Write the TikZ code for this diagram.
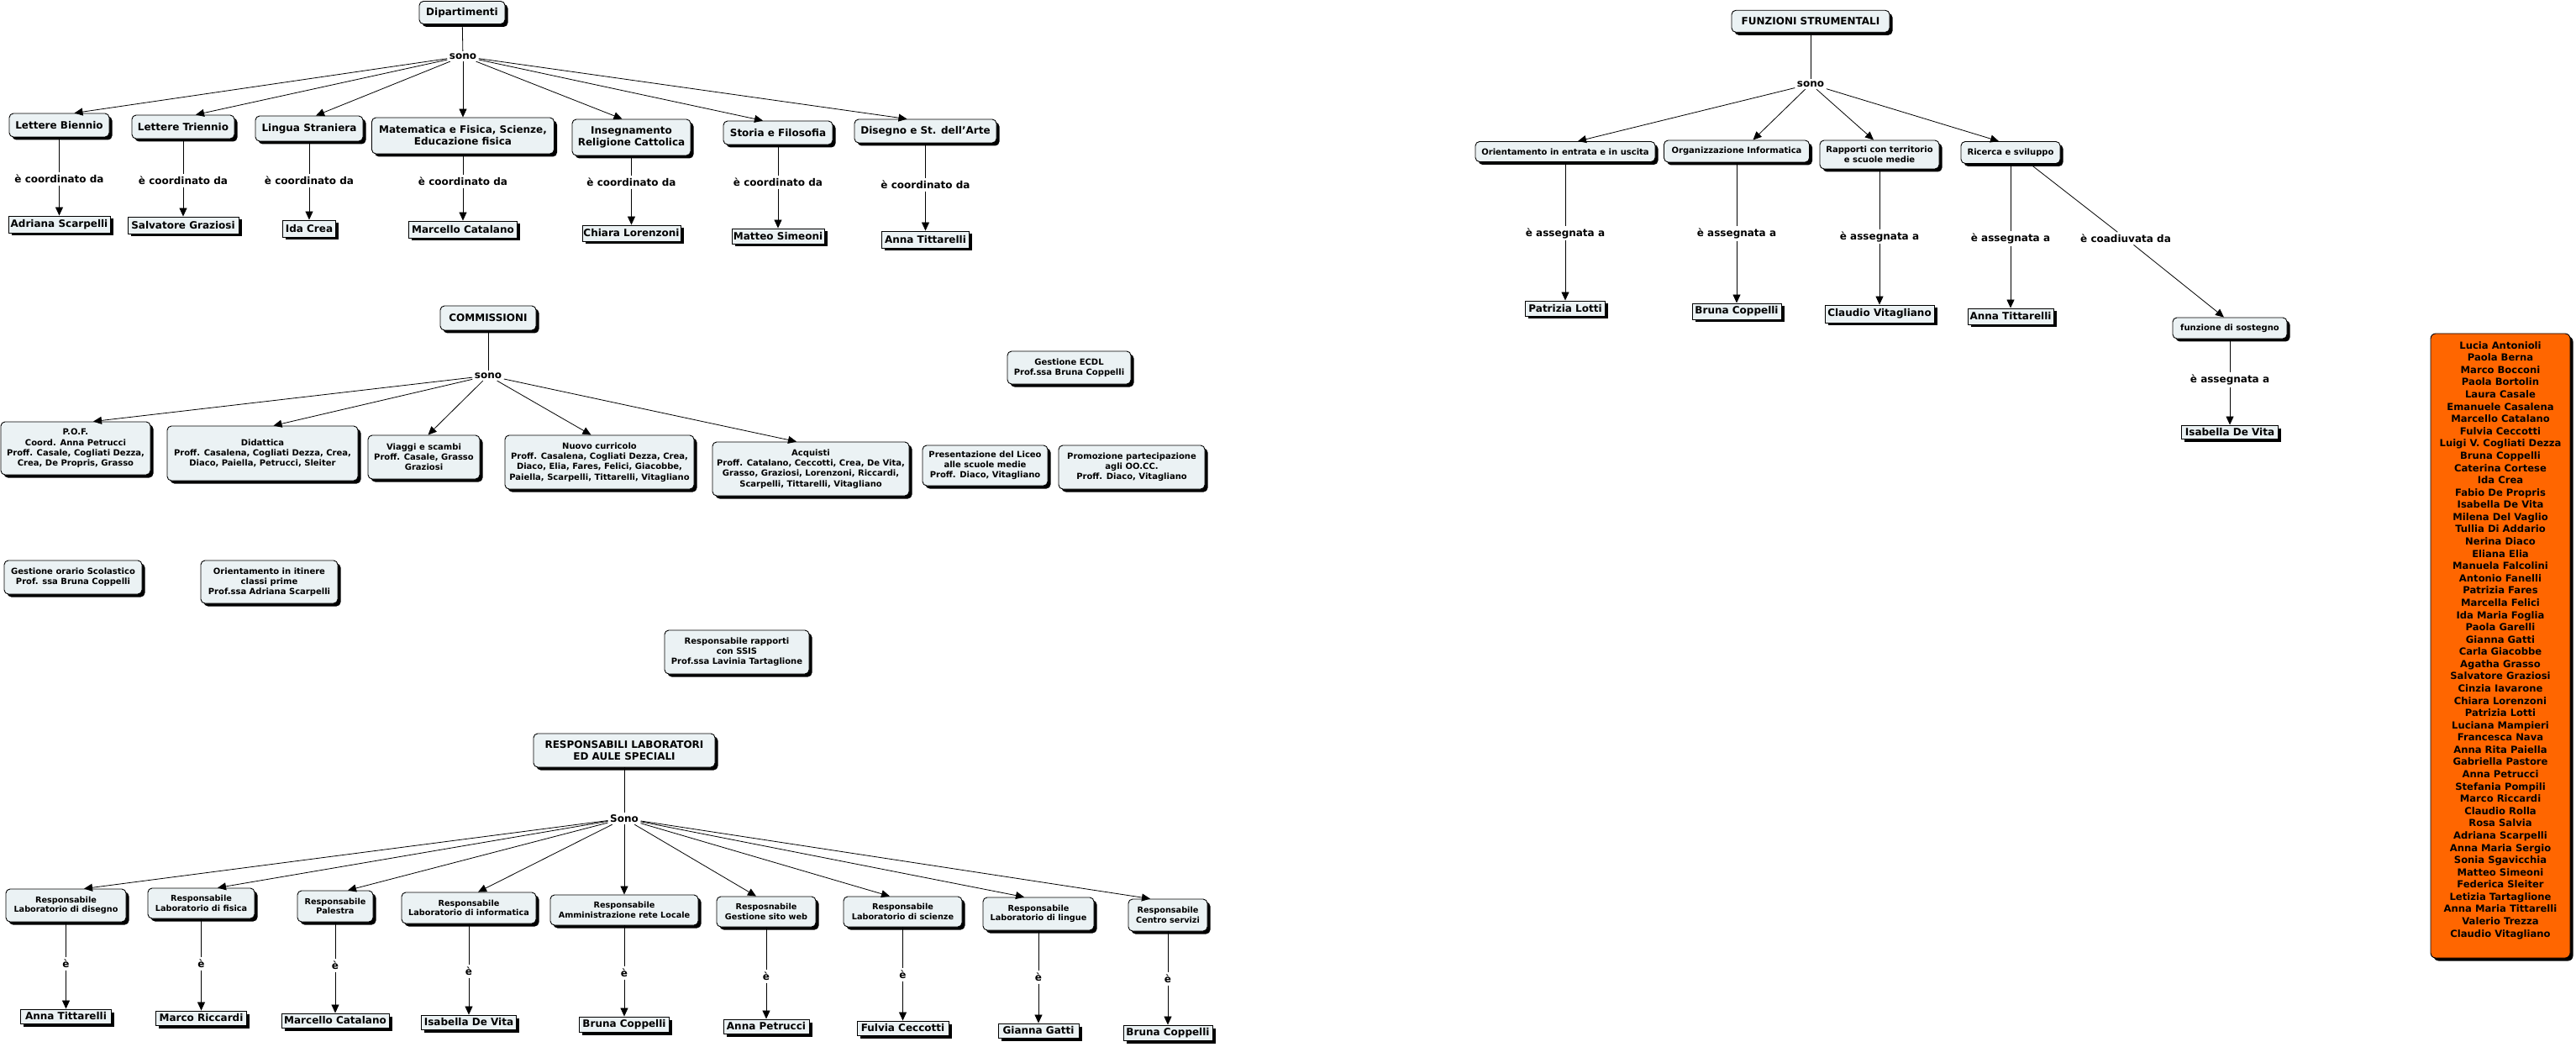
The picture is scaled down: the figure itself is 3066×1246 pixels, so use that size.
\documentclass[tikz,border=0pt]{standalone}
\usepackage{fontspec}
\setmainfont{DejaVu Sans}
\usetikzlibrary{shadows,arrows.meta}
\definecolor{boxfill}{HTML}{EBF2F4}
\definecolor{orangefill}{HTML}{FF6600}
\newcommand\fzA{\fontsize{12}{14}\selectfont}
\newcommand\fzB{\fontsize{10}{12.2}\selectfont}
\newcommand\fzC{\fontsize{9.7}{11.7}\selectfont}
\newcommand\fzL{\fontsize{11.6}{14.58}\selectfont}
\begin{document}
\begin{tikzpicture}[x=1pt,y=-1pt,
  shad/.style={drop shadow={shadow xshift=3.5pt,shadow yshift=-3.5pt,opacity=1,fill=black}},
  cbox/.style={shad,draw=black,line width=0.9pt,rounded corners=5pt,fill=boxfill,align=center,inner sep=1pt,font=\bfseries\fzA},
  nbox/.style={shad,draw=black,line width=0.9pt,fill=boxfill,align=center,inner sep=1pt,font=\bfseries\fzA},
  lbl/.style={font=\bfseries\fzA,inner sep=2.5pt},
  con/.style={line width=0.8pt},
  arr/.style={line width=0.8pt,-{Triangle[length=10pt,width=9pt]}},
  wh/.style 2 args={minimum width=#1pt,minimum height=#2pt}
]
\fill[white] (0,0) rectangle (3066,1246);
\useasboundingbox (0,0) rectangle (3066,1246);

% ---------------- Dipartimenti ----------------
\node[cbox,wh={102}{27}] (dip) at (550,15) {Dipartimenti};
\node[lbl] (dsono) at (551,67) {sono};
\node[cbox,wh={119}{28}] (d1) at (70.5,149) {Lettere Biennio};
\node[cbox,wh={122}{28}] (d2) at (218,151) {Lettere Triennio};
\node[cbox,wh={128}{30}] (d3) at (368,153) {Lingua Straniera};
\node[cbox,wh={217}{43}] (d4) at (551,161.5) {Matematica e Fisica, Scienze,\\Educazione fisica};
\node[cbox,wh={141}{43}] (d5) at (751.5,163.5) {Insegnamento\\Religione Cattolica};
\node[cbox,wh={130}{28}] (d6) at (926,158) {Storia e Filosofia};
\node[cbox,wh={169}{28}] (d7) at (1101.5,156) {Disegno e St. dell'Arte};

\node[lbl] (dl1) at (70.5,213) {è coordinato da};
\node[lbl] (dl2) at (218,215) {è coordinato da};
\node[lbl] (dl3) at (368,215) {è coordinato da};
\node[lbl] (dl4) at (551,216) {è coordinato da};
\node[lbl] (dl5) at (751.5,217) {è coordinato da};
\node[lbl] (dl6) at (926,217) {è coordinato da};
\node[lbl] (dl7) at (1101.5,220) {è coordinato da};

\node[nbox,wh={121}{20}] (dn1) at (70.5,267) {Adriana Scarpelli};
\node[nbox,wh={132}{20}] (dn2) at (218,268) {Salvatore Graziosi};
\node[nbox,wh={63}{20}] (dn3) at (368,272) {Ida Crea};
\node[nbox,wh={129}{20}] (dn4) at (551,273) {Marcello Catalano};
\node[nbox,wh={117}{19}] (dn5) at (751.5,277.5) {Chiara Lorenzoni};
\node[nbox,wh={110}{18}] (dn6) at (926,281) {Matteo Simeoni};
\node[nbox,wh={104}{20}] (dn7) at (1101.5,285) {Anna Tittarelli};

\draw[con] (dip) -- (dsono);
\draw[arr] (dsono) -- ([xshift=18pt]d1.north);
\draw[arr] (dsono) -- ([xshift=15pt]d2.north);
\draw[arr] (dsono) -- ([xshift=8pt]d3.north);
\draw[arr] (dsono) -- (d4.north);
\draw[arr] (dsono) -- ([xshift=-11pt]d5.north);
\draw[arr] (dsono) -- ([xshift=-18pt]d6.north);
\draw[arr] (dsono) -- ([xshift=-22pt]d7.north);
\foreach \i in {1,...,7}{
  \draw[con] (d\i) -- (dl\i);
  \draw[arr] (dl\i) -- (dn\i);
}

% ---------------- Commissioni ----------------
\node[cbox,wh={114}{29}] (com) at (581,378.5) {COMMISSIONI};
\node[lbl] (csono) at (581,447) {sono};
\node[cbox,font=\bfseries\fzB,wh={178}{63}] (c1) at (90,533.5) {P.O.F.\\Coord. Anna Petrucci\\Proff. Casale, Cogliati Dezza,\\Crea, De Propris, Grasso};
\node[cbox,font=\bfseries\fzB,wh={227}{65}] (c2) at (312.5,539.5) {Didattica\\Proff. Casalena, Cogliati Dezza, Crea,\\Diaco, Paiella, Petrucci, Sleiter};
\node[cbox,font=\bfseries\fzB,wh={133}{52}] (c3) at (504.5,544) {Viaggi e scambi\\Proff. Casale, Grasso\\Graziosi};
\node[cbox,font=\bfseries\fzB,wh={225}{64}] (c4) at (713.5,550) {Nuovo curricolo\\Proff. Casalena, Cogliati Dezza, Crea,\\Diaco, Elia, Fares, Felici, Giacobbe,\\Paiella, Scarpelli, Tittarelli, Vitagliano};
\node[cbox,font=\bfseries\fzB,wh={234}{64}] (c5) at (965,558) {Acquisti\\Proff. Catalano, Ceccotti, Crea, De Vita,\\Grasso, Graziosi, Lorenzoni, Riccardi,\\Scarpelli, Tittarelli, Vitagliano};
\node[cbox,font=\bfseries\fzB,wh={149}{48}] (c6) at (1172.5,554) {Presentazione del Liceo\\alle scuole medie\\Proff. Diaco, Vitagliano};
\node[cbox,font=\bfseries\fzB,wh={174}{52}] (c7) at (1347,556) {Promozione partecipazione\\agli OO.CC.\\Proff. Diaco, Vitagliano};
\node[cbox,font=\bfseries\fzB,wh={147}{39}] (ecdl) at (1272.5,437.5) {Gestione ECDL\\Prof.ssa Bruna Coppelli};

\draw[con] (com) -- (csono);
\draw[arr] (csono) -- ([xshift=21pt]c1.north);
\draw[arr] (csono) -- ([xshift=13pt]c2.north);
\draw[arr] (csono) -- ([xshift=5pt]c3.north);
\draw[arr] (csono) -- ([xshift=-10pt]c4.north);
\draw[arr] (csono) -- ([xshift=-17pt]c5.north);

% ---------------- isolated boxes ----------------
\node[cbox,font=\bfseries\fzB,wh={164}{40}] (gor) at (87,687) {Gestione orario Scolastico\\Prof. ssa Bruna Coppelli};
\node[cbox,font=\bfseries\fzB,wh={163}{51}] (oit) at (320.5,692.5) {Orientamento in itinere\\classi prime\\Prof.ssa Adriana Scarpelli};
\node[cbox,font=\bfseries\fzB,wh={172}{52}] (ssis) at (877,776) {Responsabile rapporti\\con SSIS\\Prof.ssa Lavinia Tartaglione};

% ---------------- Responsabili laboratori ----------------
\node[cbox,wh={216}{40}] (resp) at (743,893) {RESPONSABILI LABORATORI\\ED AULE SPECIALI};
\node[lbl] (rsono) at (743,974) {Sono};
\node[cbox,font=\bfseries\fzC,wh={143}{39}] (r1) at (78.5,1077.5) {Responsabile\\Laboratorio di disegno};
\node[cbox,font=\bfseries\fzC,wh={127}{36}] (r2) at (239.5,1075) {Responsabile\\Laboratorio di fisica};
\node[cbox,font=\bfseries\fzC,wh={90}{37}] (r3) at (399,1078.5) {Responsabile\\Palestra};
\node[cbox,font=\bfseries\fzC,wh={160}{37}] (r4) at (558,1080.5) {Responsabile\\Laboratorio di informatica};
\node[cbox,font=\bfseries\fzC,wh={176}{36}] (r5) at (743,1083) {Responsabile\\Amministrazione rete Locale};
\node[cbox,font=\bfseries\fzC,wh={118}{36}] (r6) at (912,1085) {Resposnabile\\Gestione sito web};
\node[cbox,font=\bfseries\fzC,wh={141}{36}] (r7) at (1074.5,1085) {Responsabile\\Laboratorio di scienze};
\node[cbox,font=\bfseries\fzC,wh={132}{39}] (r8) at (1236,1087.5) {Responsabile\\Laboratorio di lingue};
\node[cbox,font=\bfseries\fzC,wh={94}{38}] (r9) at (1390,1089) {Responsabile\\Centro servizi};

\node[lbl] (rl1) at (78.5,1147) {è};
\node[lbl] (rl2) at (239.5,1147) {è};
\node[lbl] (rl3) at (399,1149) {è};
\node[lbl] (rl4) at (558,1156) {è};
\node[lbl] (rl5) at (743,1158) {è};
\node[lbl] (rl6) at (912,1162) {è};
\node[lbl] (rl7) at (1074.5,1160) {è};
\node[lbl] (rl8) at (1236,1163) {è};
\node[lbl] (rl9) at (1390,1165) {è};

\node[nbox,wh={108}{17}] (rm1) at (78.5,1209.5) {Anna Tittarelli};
\node[nbox,wh={108}{17}] (rm2) at (239.5,1211.5) {Marco Riccardi};
\node[nbox,wh={128}{17}] (rm3) at (399,1214.5) {Marcello Catalano};
\node[nbox,wh={113}{17}] (rm4) at (558,1216.5) {Isabella De Vita};
\node[nbox,wh={107}{18}] (rm5) at (743,1219) {Bruna Coppelli};
\node[nbox,wh={102}{17}] (rm6) at (912,1221.5) {Anna Petrucci};
\node[nbox,wh={109}{17}] (rm7) at (1074.5,1223.5) {Fulvia Ceccotti};
\node[nbox,wh={96}{17}] (rm8) at (1236,1226.5) {Gianna Gatti};
\node[nbox,wh={106}{18}] (rm9) at (1390,1229) {Bruna Coppelli};

\draw[con] (resp) -- (rsono);
\draw[arr] (rsono) -- ([xshift=21.5pt]r1.north);
\draw[arr] (rsono) -- ([xshift=19.5pt]r2.north);
\draw[arr] (rsono) -- ([xshift=15pt]r3.north);
\draw[arr] (rsono) -- ([xshift=11pt]r4.north);
\draw[arr] (rsono) -- (r5.north);
\draw[arr] (rsono) -- ([xshift=-12pt]r6.north);
\draw[arr] (rsono) -- ([xshift=-15.5pt]r7.north);
\draw[arr] (rsono) -- ([xshift=-17pt]r8.north);
\draw[arr] (rsono) -- ([xshift=-21pt]r9.north);
\foreach \i in {1,...,9}{
  \draw[con] (r\i) -- (rl\i);
  \draw[arr] (rl\i) -- (rm\i);
}

% ---------------- Funzioni strumentali ----------------
\node[cbox,wh={188}{26}] (fs) at (2155,25.3) {FUNZIONI STRUMENTALI};
\node[lbl] (fsono) at (2155,100) {sono};
\node[cbox,font=\bfseries\fzB,wh={214}{24}] (f1) at (1863,180.5) {Orientamento in entrata e in uscita};
\node[cbox,font=\bfseries\fzB,wh={173}{26}] (f2) at (2067,180) {Organizzazione Informatica};
\node[cbox,font=\bfseries\fzB,wh={142}{34}] (f3) at (2237,184) {Rapporti con territorio\\e scuole medie};
\node[cbox,font=\bfseries\fzB,wh={118}{26}] (f4) at (2393,181.5) {Ricerca e sviluppo};

\node[lbl] (fl1) at (1863,277.6) {è assegnata a};
\node[lbl] (fl2) at (2067,278) {è assegnata a};
\node[lbl] (fl3) at (2237,281.7) {è assegnata a};
\node[lbl] (fl4) at (2393,283.8) {è assegnata a};
\node[lbl] (fcoad) at (2530,283.8) {è coadiuvata da};

\node[nbox,wh={95}{18}] (fn1) at (1863,367) {Patrizia Lotti};
\node[nbox,wh={106}{19}] (fn2) at (2067,370.5) {Bruna Coppelli};
\node[nbox,wh={130}{21}] (fn3) at (2237,373.5) {Claudio Vitagliano};
\node[nbox,wh={102}{19}] (fn4) at (2393,376.5) {Anna Tittarelli};

\node[cbox,font=\bfseries\fzB,wh={136}{25}] (sost) at (2654,390.5) {funzione di sostegno};
\node[lbl] (fl5) at (2654,452) {è assegnata a};
\node[nbox,wh={115}{16}] (fn5) at (2654,514) {Isabella De Vita};

\draw[con] (fs) -- (fsono);
\draw[arr] (fsono) -- ([xshift=15pt]f1.north);
\draw[arr] (fsono) -- ([xshift=19.5pt]f2.north);
\draw[arr] (fsono) -- ([xshift=-7pt]f3.north);
\draw[arr] (fsono) -- ([xshift=-14pt]f4.north);
\foreach \i in {1,...,4}{
  \draw[con] (f\i) -- (fl\i);
  \draw[arr] (fl\i) -- (fn\i);
}
\draw[con] ([xshift=23pt]f4.south) -- (fcoad);
\draw[arr] (fcoad) -- ([xshift=-7pt]sost.north);
\draw[con] (sost) -- (fl5);
\draw[arr] (fl5) -- (fn5);

% ---------------- Orange list ----------------
\node[shad,draw=black,line width=0.9pt,rounded corners=6pt,fill=orangefill,wh={166}{743}] (lista) at (2976,768.5) {};
\node[font=\bfseries\fzL,align=center,inner sep=0pt] (nomi) at (2976,762) {Lucia Antonioli\\Paola Berna\\Marco Bocconi\\Paola Bortolin\\Laura Casale\\Emanuele Casalena\\Marcello Catalano\\Fulvia Ceccotti\\Luigi V. Cogliati Dezza\\Bruna Coppelli\\Caterina Cortese\\Ida Crea\\Fabio De Propris\\Isabella De Vita\\Milena Del Vaglio\\Tullia Di Addario\\Nerina Diaco\\Eliana Elia\\Manuela Falcolini\\Antonio Fanelli\\Patrizia Fares\\Marcella Felici\\Ida Maria Foglia\\Paola Garelli\\Gianna Gatti\\Carla Giacobbe\\Agatha Grasso\\Salvatore Graziosi\\Cinzia Iavarone\\Chiara Lorenzoni\\Patrizia Lotti\\Luciana Mampieri\\Francesca Nava\\Anna Rita Paiella\\Gabriella Pastore\\Anna Petrucci\\Stefania Pompili\\Marco Riccardi\\Claudio Rolla\\Rosa Salvia\\Adriana Scarpelli\\Anna Maria Sergio\\Sonia Sgavicchia\\Matteo Simeoni\\Federica Sleiter\\Letizia Tartaglione\\Anna Maria Tittarelli\\Valerio Trezza\\Claudio Vitagliano};
\end{tikzpicture}
\end{document}
